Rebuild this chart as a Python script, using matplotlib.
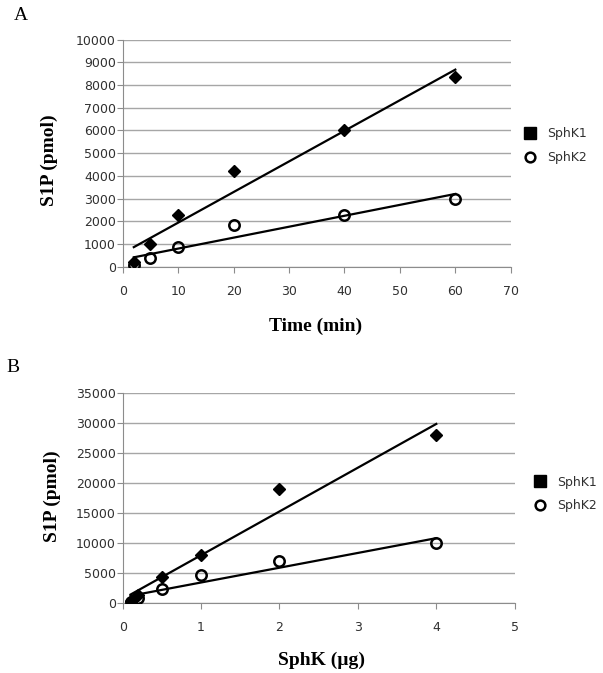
import numpy as np
import matplotlib
matplotlib.use("Agg")
import matplotlib.pyplot as plt
from matplotlib.lines import Line2D

# panel A: S1P vs time
time_min = [2, 5, 10, 20, 40, 60]
a_sphk1 = [200, 1000, 2300, 4200, 6000, 8350]
a_sphk2 = [100, 400, 900, 1850, 2300, 3000]

# panel B: S1P vs amount of enzyme
enzyme_ug = [0.1, 0.2, 0.5, 1, 2, 4]
b_sphk1 = [300, 1300, 4450, 8000, 19000, 28000]
b_sphk2 = [200, 900, 2300, 4750, 7000, 10000]

series_names = ["SphK1", "SphK2"]

serif = "Liberation Serif"
tick_col = "#303030"
grid_col = "#a6a6a6"

fig = plt.figure(figsize=(6.03, 6.73), dpi=100)
axA = fig.add_axes([0.2035, 0.6033, 0.6435, 0.338])
axB = fig.add_axes([0.2035, 0.1036, 0.650, 0.3129])


def trend(ax, x, y):
    # excel style linear trendline over the data range
    k, b = np.polyfit(x, y, 1)
    xs = np.array([min(x), max(x)])
    ax.plot(xs, k * xs + b, color="black", lw=1.6, zorder=2)


def style(ax, xmax, xstep, ymax, ystep):
    ax.set_xlim(0, xmax)
    ax.set_ylim(0, ymax)
    ax.set_xticks(np.arange(0, xmax + xstep / 2, xstep))
    ax.set_yticks(np.arange(0, ymax + ystep / 2, ystep))
    ax.yaxis.grid(True, color=grid_col, lw=1.0)
    ax.set_axisbelow(True)
    for s in ["top", "right"]:
        ax.spines[s].set_visible(False)
    for s in ["left", "bottom"]:
        ax.spines[s].set_color("#8c8c8c")
    ax.tick_params(axis="x", length=4, width=0.8, color="#8c8c8c", pad=9,
                   labelsize=9, labelcolor=tick_col)
    ax.tick_params(axis="y", length=4, width=0.8, color="#8c8c8c", pad=1,
                   labelsize=9, labelcolor=tick_col)


def points(ax, x, y1, y2):
    ax.plot(x, y1, "D", color="black", ms=6.5, zorder=3)
    ax.plot(x, y2, "o", mfc="none", mec="black", mew=1.8, ms=7.5, zorder=4)
    trend(ax, x, y1)
    trend(ax, x, y2)


def legend(ax, anchor):
    handles = [
        Line2D([], [], ls="none", marker="s", color="black", ms=8),
        Line2D([], [], ls="none", marker="o", mfc="none", mec="black", mew=1.8, ms=7),
    ]
    leg = ax.legend(handles, series_names, loc="center left",
                    bbox_to_anchor=anchor, bbox_transform=fig.transFigure,
                    frameon=False, fontsize=9, handlelength=1.0,
                    handletextpad=0.9, labelspacing=0.85, borderpad=0,
                    borderaxespad=0)
    for t in leg.get_texts():
        t.set_color("#303030")


# panel A
points(axA, time_min, a_sphk1, a_sphk2)
style(axA, 70, 10, 10000, 1000)
axA.set_xlabel("Time (min)", fontfamily=serif, fontweight="bold", fontsize=14)
axA.set_ylabel("S1P (pmol)", fontfamily=serif, fontweight="bold", fontsize=14)
axA.xaxis.set_label_coords(0.498, -0.222)
axA.yaxis.set_label_coords(-0.167, 0.47)
legend(axA, (0.8686, 0.7834))

# panel B
points(axB, enzyme_ug, b_sphk1, b_sphk2)
style(axB, 5, 1, 35000, 5000)
axB.set_xlabel("SphK (\u00b5g)", fontfamily=serif, fontweight="bold", fontsize=14)
axB.set_ylabel("S1P (pmol)", fontfamily=serif, fontweight="bold", fontsize=14)
axB.xaxis.set_label_coords(0.508, -0.232)
axB.yaxis.set_label_coords(-0.158, 0.51)
legend(axB, (0.8852, 0.2657))

fig.text(21 / 603, 1 - 16 / 673, "A", fontfamily=serif, fontsize=14,
         ha="center", va="center")
fig.text(12.5 / 603, 1 - 368 / 673, "B", fontfamily=serif, fontsize=14,
         ha="center", va="center")

fig.savefig("out.png", dpi=100, facecolor="white")
